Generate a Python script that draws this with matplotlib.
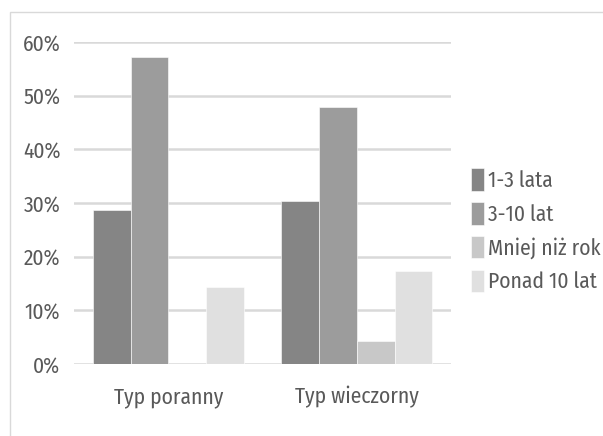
import matplotlib
matplotlib.use("Agg")
import matplotlib.pyplot as plt
from matplotlib.patches import Rectangle
from matplotlib.ticker import PercentFormatter
import numpy as np

plt.rcParams['font.family'] = ['Fira Sans Condensed', 'Carlito', 'DejaVu Sans']

categories = ["Typ poranny", "Typ wieczorny"]
series_names = ["1-3 lata", "3-10 lat", "Mniej niż rok", "Ponad 10 lat"]
values_1_3 = [28.6, 30.4]
values_3_10 = [57.1, 47.8]
values_lt1 = [0.0, 4.3]
values_gt10 = [14.3, 17.4]
yticks = [0, 10, 20, 30, 40, 50, 60]

series_values = [values_1_3, values_3_10, values_lt1, values_gt10]
colors = ["#858585", "#9c9c9c", "#c8c8c8", "#e0e0e0"]
text_color = "#595959"
grid_color = "#d9d9d9"
font_size = 15.5

fig = plt.figure(figsize=(6.03, 4.36), dpi=100)
ax = fig.add_axes([0.123, 0.165, 0.625, 0.739])

x = np.arange(len(categories))
width = 0.2
for i, (name, vals) in enumerate(zip(series_names, series_values)):
    ax.bar(x + (i - 1.5) * width, vals, width, color=colors[i], label=name,
           edgecolor="white", linewidth=0.4, zorder=3)

ax.set_xlim(-0.5, 1.5)
ax.set_ylim(0, 60)
ax.set_yticks(yticks)
ax.yaxis.set_major_formatter(PercentFormatter(decimals=0))
ax.set_xticks(x)
ax.set_xticklabels(categories)
ax.yaxis.grid(True, color=grid_color, linewidth=1.8, zorder=0)
ax.set_axisbelow(True)
for s in ax.spines.values():
    s.set_visible(False)
ax.tick_params(axis='both', length=0, colors=text_color, labelsize=font_size)
ax.tick_params(axis='y', pad=10)
ax.tick_params(axis='x', pad=16)

leg = ax.legend(loc='center left', bbox_to_anchor=(1.053, 0.415), frameon=False,
                fontsize=font_size, handlelength=0.58, handleheight=1.25,
                handletextpad=0.2, labelspacing=0.5, borderaxespad=0,
                borderpad=0)
for t in leg.get_texts():
    t.set_color(text_color)

fig.patches.append(Rectangle((9.6 / 603, -0.1), 1.2, 0.1 + (436 - 12) / 436,
                             transform=fig.transFigure, fill=False,
                             edgecolor=grid_color, linewidth=1.0))

fig.savefig("out.png", dpi=100)
